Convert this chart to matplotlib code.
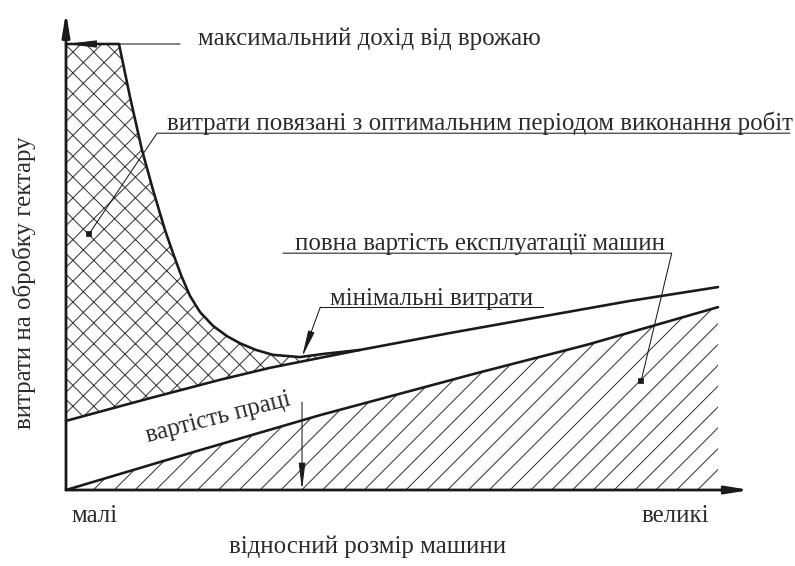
import numpy as np
import matplotlib
matplotlib.use('Agg')
import matplotlib.pyplot as plt

plt.rcParams['font.family'] = ['Liberation Serif', 'DejaVu Serif']
plt.rcParams['hatch.linewidth'] = 0.6

# curves: x = relative machine size (0..1), y = cost (0..100)
top_x = [0, 0.0813, 0.0982, 0.1166, 0.1334, 0.1518, 0.1641, 0.1764, 0.1902, 0.2055,
         0.2255, 0.2469, 0.2669, 0.2914, 0.3175, 0.3589, 0.3942, 0.4509]
top_y = [100, 100, 88.1, 76.2, 67.3, 58.3, 53.1, 48.2, 43.5, 39.9,
         36.8, 34.5, 32.9, 31.4, 30.3, 29.8, 30.5, 31.4]
upper_x = [0, 0.129, 0.236, 0.313, 0.4509, 0.589, 0.742, 0.865, 1.0]
upper_y = [15.5, 20.6, 24.7, 27.4, 31.4, 35.2, 39.2, 42.4, 45.5]
lower_x = [0, 0.2, 0.39, 0.63, 0.8, 1.0]
lower_y = [0, 8.7, 16.8, 26.2, 32.6, 41.0]

x_label = 'відносний розмір машини'
y_label = 'витрати на обробку гектару'
x_small, x_big = 'малі', 'великі'
lbl_max = 'максимальний дохід від врожаю'
lbl_time = 'витрати повязані з оптимальним періодом виконання робіт'
lbl_machine = 'повна вартість експлуатації машин'
lbl_min = 'мінімальні витрати'
lbl_labour = 'вартість праці'

DPI = 125
fig = plt.figure(figsize=(795 / DPI, 566 / DPI), dpi=DPI)
ax = fig.add_axes([0, 0, 1, 1])
ax.set_xlim(-66 / 652, 729 / 652)
ax.set_ylim(-76 / 4.46, 490 / 4.46)
ax.axis('off')

ink = '#1a1a1a'
txt = '#2b2b2b'
fs = 14.3

# cross-hatched area between the top curve and labour+machine line
ux = np.array(upper_x)
uy = np.array(upper_y)
keep = ux <= top_x[-1]
poly_x = np.concatenate([[0], top_x[1:], ux[keep][::-1][1:]])
poly_y = np.concatenate([[top_y[0]], top_y[1:], uy[keep][::-1][1:]])
ax.fill(poly_x, poly_y, facecolor='none', edgecolor='#3a3a3a', hatch='xx', linewidth=0)

# single hatch under machine cost
lx = np.concatenate([lower_x, [lower_x[-1], 0]])
ly = np.concatenate([lower_y, [0, 0]])
ax.fill(lx, ly, facecolor='none', edgecolor='#3a3a3a', hatch='//', linewidth=0)

ax.plot(top_x, top_y, color=ink, lw=1.5, solid_capstyle='round', solid_joinstyle='round')
ax.plot(upper_x, upper_y, color=ink, lw=1.5, solid_capstyle='round')
ax.plot(lower_x, lower_y, color=ink, lw=1.5, solid_capstyle='round')

def arrow(x0, y0, x1, y1, lw, hl, hw):
    ax.annotate('', xy=(x1, y1), xytext=(x0, y0),
                arrowprops=dict(arrowstyle='-|>,head_length=%g,head_width=%g' % (hl, hw),
                                mutation_scale=1, color=ink, lw=lw,
                                shrinkA=0, shrinkB=0))

# axes
arrow(0, 0, 0, 107.2, 1.6, 11, 1.8)
arrow(0, 0, 1.049, 0, 1.6, 11, 1.8)

# max yield
arrow(0.175, 100, 0, 100, 0.6, 15, 1.8)
ax.text(0.2025, 99.8, lbl_max, fontsize=fs, color=txt, va='baseline')

# timeliness costs
ax.text(0.155, 80.7, lbl_time, fontsize=fs, color=txt, va='baseline')
ax.plot([1.110, 0.1396, 0.0353], [80.0, 80.0, 57.4], color=ink, lw=0.6)
ax.plot(0.0353, 57.4, 's', color=ink, ms=2.5)

# machine cost
ax.text(0.351, 53.8, lbl_machine, fontsize=fs, color=txt, va='baseline')
ax.plot([0.333, 0.929, 0.882], [53.1, 53.1, 24.4], color=ink, lw=0.6)
ax.plot(0.882, 24.4, 's', color=ink, ms=2.5)

# minimum costs
ax.text(0.405, 41.5, lbl_min, fontsize=fs, color=txt, va='baseline')
ax.plot([0.732, 0.390], [41.0, 41.0], color=ink, lw=0.6)
arrow(0.390, 41.0, 0.362, 29.8, 0.6, 13, 1.6)

# labour
ax.text(0.233, 16.1, lbl_labour, fontsize=fs, color=txt, ha='center', va='center',
        rotation=14.5, rotation_mode='anchor')
arrow(0.362, 19.7, 0.362, 0, 0.6, 13, 1.6)

# axis texts
ax.text(0.009, -7.2, x_small, fontsize=fs, color=txt, va='baseline')
ax.text(0.986, -7.2, x_big, fontsize=fs, color=txt, va='baseline', ha='right')
ax.text(0.462, -14.1, x_label, fontsize=fs, color=txt, va='baseline', ha='center')
ax.text(-0.064, 46.4, y_label, fontsize=fs, color=txt, va='center', ha='center', rotation=90)

fig.savefig('out.png', dpi=DPI)
